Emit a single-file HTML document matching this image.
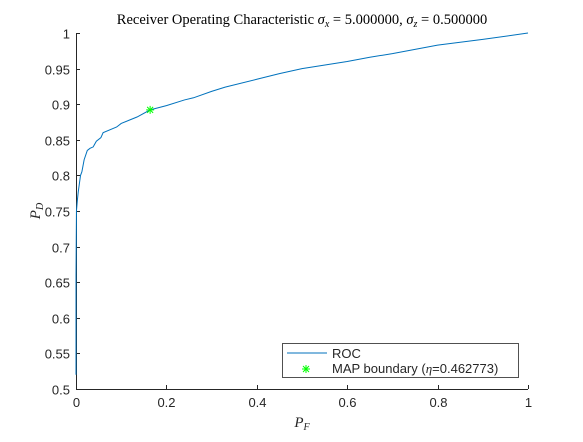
<!DOCTYPE html>
<html><head><meta charset="utf-8"><style>
body{margin:0;background:#fff;width:583px;height:437px;overflow:hidden;}
svg text{font-family:"Liberation Sans",sans-serif;font-size:13px;fill:#262626;}
.serif{font-family:"Liberation Serif",serif!important;}
</style></head><body>
<svg id="chart" width="583" height="437">
<text class="serif" x="302" y="24" text-anchor="middle" style="font-size:14.5px;fill:#000">Receiver Operating Characteristic <tspan font-style="italic">σ</tspan><tspan font-style="italic" font-size="10" dy="3">x</tspan><tspan dy="-3"> = 5.000000, </tspan><tspan font-style="italic">σ</tspan><tspan font-style="italic" font-size="10" dy="3">z</tspan><tspan dy="-3"> = 0.500000</tspan></text>
<g id="axes"></g>
<text class="serif" x="302" y="427" text-anchor="middle" font-style="italic" style="font-size:15px">P<tspan font-size="10" dy="3">F</tspan></text>
<text class="serif" transform="translate(40,211) rotate(-90)" text-anchor="middle" font-style="italic" style="font-size:15px">P<tspan font-size="10" dy="3">D</tspan></text>
<g>
<rect x="282.5" y="343.5" width="236" height="34" fill="#fff" stroke="#262626" stroke-width="0.8"/>
<line x1="287" y1="353" x2="327" y2="353" stroke="#0072bd" stroke-width="1"/>
<text x="332" y="358">ROC</text>
<g stroke="#00ff00" stroke-width="1">
<line x1="302" y1="369" x2="310" y2="369"/><line x1="306" y1="365" x2="306" y2="373"/>
<line x1="303" y1="366" x2="309" y2="372"/><line x1="303" y1="372" x2="309" y2="366"/></g>
<text x="332" y="373">MAP boundary (<tspan class="serif" font-style="italic">η</tspan>=0.462773)</text>
</g>
</svg>
<script>
const pf = [0,0,0.001,0.003,0.005,0.01,0.013,0.018,0.025,0.031,0.038,0.045,0.055,0.06,0.09,0.1,0.135,0.164,0.2,0.24,0.26,0.3,0.33,0.4,0.45,0.5,0.6,0.65,0.7,0.8,0.9,1];
const pd = [0.52,0.66,0.75,0.765,0.777,0.8,0.805,0.822,0.835,0.838,0.84,0.848,0.853,0.86,0.868,0.873,0.882,0.892,0.898,0.906,0.909,0.918,0.924,0.935,0.943,0.95,0.96,0.966,0.971,0.983,0.991,1];
const mapX = [0.164];
const mapY = [0.892];
const xTicks = [0,0.2,0.4,0.6,0.8,1];
const xTickLabels = ["0","0.2","0.4","0.6","0.8","1"];
const yTicks = [0.5,0.55,0.6,0.65,0.7,0.75,0.8,0.85,0.9,0.95,1];
const yTickLabels = ["0.5","0.55","0.6","0.65","0.7","0.75","0.8","0.85","0.9","0.95","1"];

const X0=76,X1=528,Y0=389,Y1=33;
const sx=v=>X0+(v-0)/(1-0)*(X1-X0);
const sy=v=>Y0-(v-0.5)/(1-0.5)*(Y0-Y1);
const NS="http://www.w3.org/2000/svg";
const ax=document.getElementById('axes');
function mk(t,a,p){const e=document.createElementNS(NS,t);for(const k in a)e.setAttribute(k,a[k]);(p||ax).appendChild(e);return e;}
let l=mk('line',{x1:X0,y1:Y0+0.5,x2:X1,y2:Y0+0.5,stroke:'#262626','stroke-width':1});


l=mk('line',{x1:X0+0.5,y1:Y1,x2:X0+0.5,y2:Y0,stroke:'#262626','stroke-width':1});


xTicks.forEach((v,i)=>{const x=Math.round(sx(v))+0.5;
 mk('line',{x1:x,y1:Y0,x2:x,y2:Y0-4,stroke:'#262626'});
 const t=mk('text',{x:x,y:Y0+18,'text-anchor':'middle'});t.textContent=xTickLabels[i];
 
 });
yTicks.forEach((v,i)=>{const y=Math.round(sy(v))+0.5;
 mk('line',{x1:X0,y1:y,x2:X0+4,y2:y,stroke:'#262626'});
 const t=mk('text',{x:X0-6,y:y+5,'text-anchor':'end'});t.textContent=yTickLabels[i];
 
 });
const path=mk('polyline',{points:pf.map((v,i)=>sx(v)+','+sy(pd[i])).join(' '),fill:'none',stroke:'#0072bd','stroke-width':1});


mapX.forEach((v,i)=>{const cx=sx(v),cy=sy(mapY[i]);
 const g=mk('g',{stroke:'#00ff00','stroke-width':1});
 
 
 mk('line',{x1:cx-4,y1:cy,x2:cx+4,y2:cy},g);
 mk('line',{x1:cx,y1:cy-4,x2:cx,y2:cy+4},g);
 mk('line',{x1:cx-3,y1:cy-3,x2:cx+3,y2:cy+3},g);
 mk('line',{x1:cx-3,y1:cy+3,x2:cx+3,y2:cy-3},g);});
</script>
</body></html>
